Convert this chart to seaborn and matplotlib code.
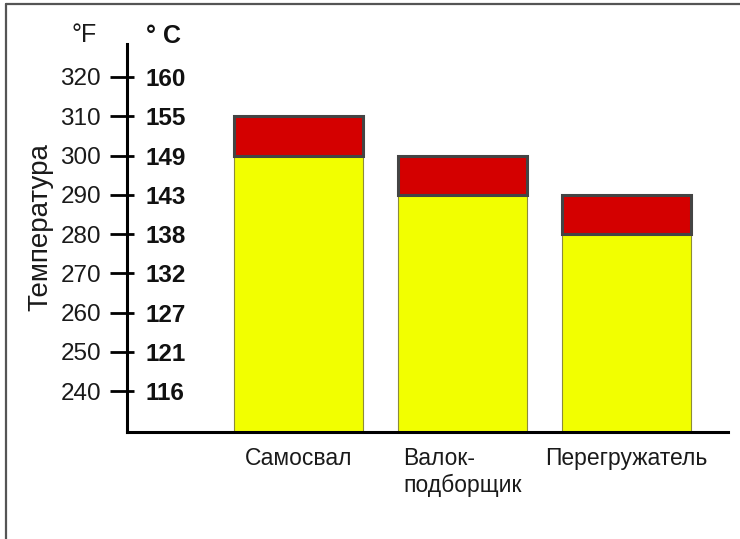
import matplotlib
matplotlib.use("Agg")
import matplotlib.pyplot as plt
from matplotlib.lines import Line2D
from matplotlib import font_manager
import seaborn as sns
import pandas as pd

# Data
machines = ["Самосвал", "Валок-\nподборщик", "Перегружатель"]
temp_low_f = [300, 290, 280]     # lower bound of the range, °F
temp_high_f = [310, 300, 290]    # upper bound of the range, °F
f_ticks = [240, 250, 260, 270, 280, 290, 300, 310, 320]
c_labels = ["116", "121", "127", "132", "138", "143", "149", "155", "160"]

installed = {f.name for f in font_manager.fontManager.ttflist}
if "Liberation Sans Narrow" in installed:
    FONT = ["Liberation Sans Narrow", "DejaVu Sans"]
    NUM_SIZE = 20
else:
    FONT = ["Liberation Sans", "DejaVu Sans"]
    NUM_SIZE = 17.5

sns.set_theme(style="white")
plt.rcParams["font.family"] = FONT

W, H = 740, 539
fig = plt.figure(figsize=(W / 100, H / 100), dpi=100)
ax = fig.add_axes([127 / W, 1 - 432 / H, (728 - 127) / W, (432 - 44) / H])

df = pd.DataFrame({"machine": machines, "low": temp_low_f, "high": temp_high_f})

bar_w = 129 / 164
# yellow base of each bar
sns.barplot(data=df, x="machine", y="low", color="#F2FF00", saturation=1,
            width=bar_w, edgecolor="#8C8C3A", linewidth=0.8, ax=ax, zorder=2)
# red upper band from low to high
xpos = list(range(len(machines)))
ax.bar(xpos, [h - l for h, l in zip(temp_high_f, temp_low_f)],
       bottom=temp_low_f, width=bar_w, color="#D40000",
       edgecolor="#444444", linewidth=2.2, zorder=3)

ax.set_xlim(-(298.5 - 127) / 164, 2 + (728 - 626.5) / 164)
ax.set_ylim(229.6, 328.4)

for s in ["top", "right"]:
    ax.spines[s].set_visible(False)
for s in ["left", "bottom"]:
    ax.spines[s].set_color("black")
    ax.spines[s].set_linewidth(2.2)

# Fahrenheit ticks on the left
ax.set_yticks(f_ticks)
ax.set_yticklabels([str(v) for v in f_ticks], fontsize=NUM_SIZE, color="#1a1a1a")
ax.tick_params(axis="y", left=True, direction="out", length=12.2, width=2.0,
               color="black", pad=6.5)
ax.tick_params(axis="x", bottom=False, pad=5)
ax.set_xlabel("")
for lbl in ax.get_xticklabels():
    lbl.set_fontsize(16.5)
    lbl.set_color("#1a1a1a")
    lbl.set_multialignment("left")

# Celsius labels on the right side of the same axis line
sec = ax.secondary_yaxis(0)
sec.set_yticks(f_ticks)
sec.set_yticklabels(c_labels, fontsize=NUM_SIZE, fontweight="bold", color="#111111")
sec.tick_params(axis="y", which="both", left=False, right=True,
                labelleft=False, labelright=True, direction="out",
                length=5, width=2.0, color="black", pad=8.6)
for s in sec.spines.values():
    s.set_visible(False)

ax.set_ylabel("Температура", fontsize=20, color="#1a1a1a")
ax.yaxis.set_label_coords((53 - 127) / 601, (432 - 227) / 388)

fig.text(84 / W, 1 - 42 / H, "°F", fontsize=NUM_SIZE + 0.5, ha="center",
         va="baseline", color="#1a1a1a")
fig.text(163 / W, 1 - 43 / H, "° C", fontsize=NUM_SIZE + 0.5, fontweight="bold",
         ha="center", va="baseline", color="#111111")

# outer frame (left and top edges)
fig.add_artist(Line2D([6 / W, 6 / W], [0, 1 - 4 / H], color="#555555",
                      linewidth=1.6, transform=fig.transFigure))
fig.add_artist(Line2D([6 / W, 1], [1 - 4 / H, 1 - 4 / H], color="#555555",
                      linewidth=1.6, transform=fig.transFigure))

fig.savefig("out.png", dpi=100)
